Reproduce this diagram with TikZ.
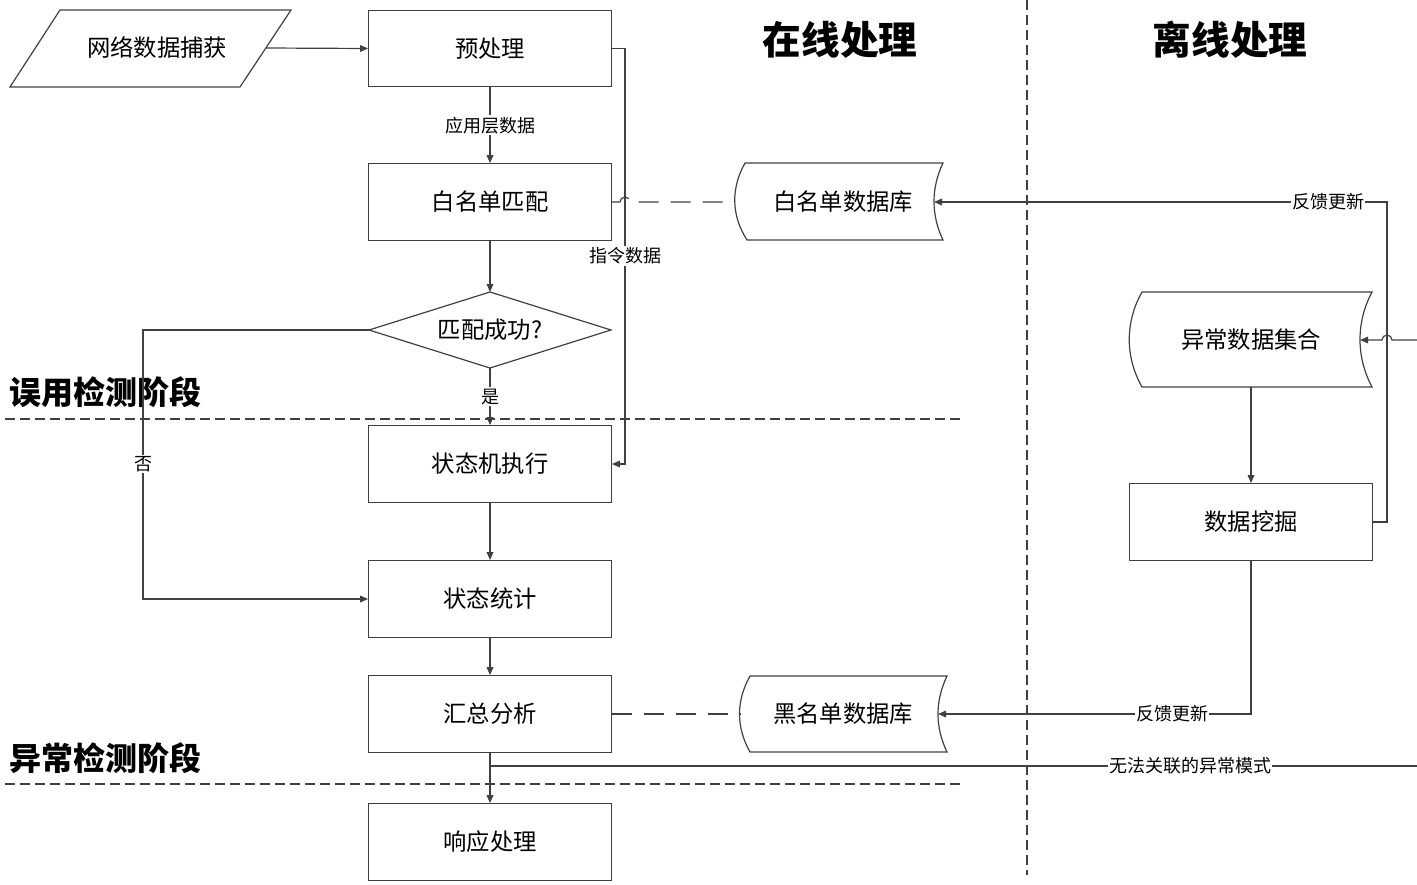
\documentclass[tikz,border=0pt]{standalone}
\usepackage{fontspec}
\setmainfont{Noto Sans CJK SC}
\usetikzlibrary{arrows.meta,shapes.geometric}
\begin{document}
\begin{tikzpicture}[x=0.75pt,y=-0.75pt,
  ln/.style={draw=black!75, line width=0.9pt},
  arr/.style={ln,-{Triangle[length=6pt,width=5pt]}},
  pbox/.style={ln, rectangle, minimum width=182pt, minimum height=57.5pt, font=\fontsize{17.5}{20}\selectfont},
  txt/.style={font=\fontsize{17.5}{20}\selectfont},
  lbl/.style={fill=white, inner sep=1pt, font=\fontsize{13.5}{16}\selectfont},
  sep/.style={draw=black!75, line width=0.9pt, dash pattern=on 7.5pt off 3.75pt},
  lnk/.style={draw=black!75, line width=0.9pt, dash pattern=on 15pt off 9pt},
  ttl/.style={font=\fontsize{29}{34}\selectfont\bfseries},
  stg/.style={font=\fontsize{24}{28}\selectfont\bfseries, anchor=west},
]
\useasboundingbox (0,0) rectangle (1417,885);

% separators
\draw[sep] (5,419) -- (960,419);
\draw[sep] (5,784) -- (960,784);
\draw[sep] (1027,0) -- (1027,875);

% titles
\node[ttl] (t1) at (840,40) {在线处理};
\node[ttl] (t2) at (1230,40) {离线处理};
\node[stg] (s1) at (5,392) {误用检测阶段};
\node[stg] (s2) at (5,758) {异常检测阶段};

% capture parallelogram
\draw[ln] (60,10) -- (291,10) -- (240,87) -- (10,87) -- cycle;
\node[txt] (cap) at (157,48) {网络数据捕获};
\coordinate (capR) at (266,48);

% main column
\node[pbox] (pre) at (490,48.5) {预处理};
\node[pbox] (wm) at (490,202) {白名单匹配};
\draw[ln] (369,330) -- (490,292) -- (611,330) -- (490,368) -- cycle;
\node[txt] (ok) at (490,330) {匹配成功?};
\coordinate (okN) at (490,292);
\coordinate (okS) at (490,368);
\coordinate (okW) at (369,330);
\node[pbox] (fsm) at (490,464) {状态机执行};
\node[pbox] (stat) at (490,599) {状态统计};
\node[pbox] (sum) at (490,714) {汇总分析};
\node[pbox] (resp) at (490,842) {响应处理};

% databases
\draw[ln] (745,163) -- (943,163) .. controls (931,188) and (931,215) .. (943,240) -- (747,240) .. controls (731,215) and (731,188) .. (745,163);
\node[txt] (wdb) at (843,202) {白名单数据库};
\coordinate (wdbL) at (735,202);
\coordinate (wdbR) at (934,202);

\draw[ln] (750,676) -- (947,676) .. controls (935,701) and (935,727) .. (947,752) -- (750,752) .. controls (736,727) and (736,701) .. (750,676);
\node[txt] (bdb) at (843,714) {黑名单数据库};
\coordinate (bdbL) at (740,714);
\coordinate (bdbR) at (938,714);

\draw[ln] (1142,292) -- (1372,292) .. controls (1356,322) and (1356,357) .. (1372,387) -- (1142,387) .. controls (1125,357) and (1125,322) .. (1142,292);
\node[txt] (ads) at (1251,340) {异常数据集合};
\coordinate (adsR) at (1360,340);
\coordinate (adsB) at (1251,387);

\node[pbox] (mine) at (1251,522) {数据挖掘};

% connectors
\draw[arr] (capR) -- (pre.west);
\draw[arr] (pre.south) -- node[lbl]{应用层数据} (wm.north);
\draw[arr] (wm.south) -- (okN);
\draw[arr] (okS) -- node[lbl]{是} (fsm.north);
\draw[arr] (okW) -- (143,330) -- (143,464) node[lbl]{否} -- (143,599) -- (stat.west);
\draw[arr] (fsm.south) -- (stat.north);
\draw[arr] (stat.south) -- (sum.north);
\draw[arr] (sum.south) -- (resp.north);
\draw[arr] (pre.east) -- (625,48.5) -- (625,256) node[lbl]{指令数据} -- (625,464) -- (fsm.east);

\draw[lnk] (wm.east) -- (620,202) arc[start angle=180,end angle=0,radius=3.75pt] -- (wdbL);
\draw[lnk] (sum.east) -- (bdbL);

\draw[arr] (mine.east) -- (1387,522) -- (1387,202) -- (1328,202) node[lbl]{反馈更新} -- (wdbR);
\draw[arr] (mine.south) -- (1251,714) -- (1172,714) node[lbl]{反馈更新} -- (bdbR);
\draw[arr] (adsB) -- (mine.north);

\coordinate (edgeA) at (1417,340);
\draw[arr] (edgeA) -- (1392,340) arc[start angle=0,end angle=180,radius=3.75pt] -- (adsR);

\coordinate (junc) at (490,766);
\coordinate (edgeB) at (1417,766);
\draw[ln] (junc) -- (1190,766) node[lbl]{无法关联的异常模式} -- (edgeB);
\end{tikzpicture}
\end{document}
